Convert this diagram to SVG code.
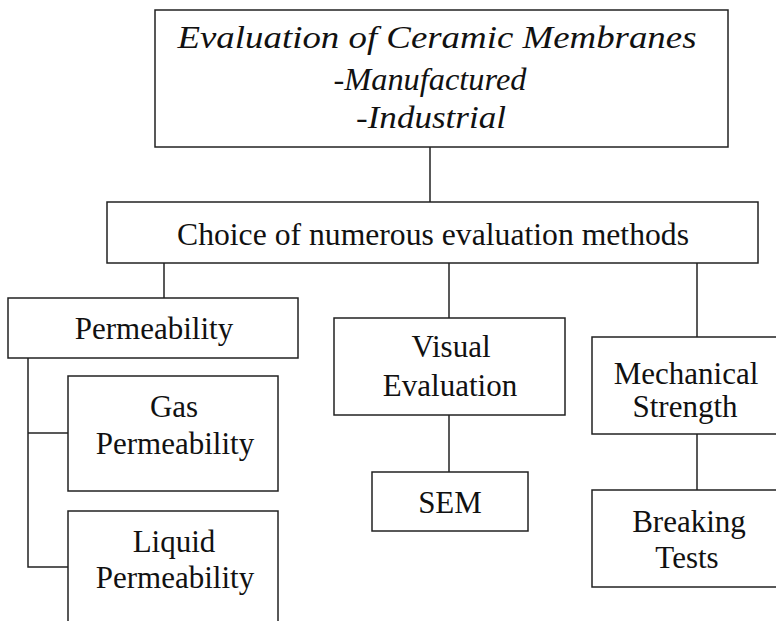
<svg xmlns="http://www.w3.org/2000/svg" width="776" height="621" viewBox="0 0 776 621">
<style>
.box{fill:#fff;stroke:#222;stroke-width:1.5}
.ln{fill:none;stroke:#222;stroke-width:1.5}
.t{font-family:"Liberation Serif","Times New Roman",serif;font-size:31px;fill:#111;text-anchor:middle}
.ti{font-family:"Liberation Serif","Times New Roman",serif;font-style:italic;font-size:31px;fill:#111;text-anchor:middle}
</style>
<rect width="776" height="621" fill="#fff"/>
<g id="connectors">
<path class="ln" d="M430 147V202"/>
<path class="ln" d="M164 263V298"/>
<path class="ln" d="M449 263V318"/>
<path class="ln" d="M697 263V337"/>
<path class="ln" d="M28 358V567H68"/>
<path class="ln" d="M28 433H68"/>
<path class="ln" d="M449 415V472"/>
<path class="ln" d="M697 434V490"/>
</g>
<g id="top">
<rect class="box" x="155" y="10" width="573" height="137"/>
<text class="ti" x="437" y="48" textLength="519" lengthAdjust="spacingAndGlyphs">Evaluation of Ceramic Membranes</text>
<text class="ti" x="430" y="90" textLength="193" lengthAdjust="spacingAndGlyphs">-Manufactured</text>
<text class="ti" x="431" y="128" textLength="150" lengthAdjust="spacingAndGlyphs">-Industrial</text>
</g>
<g id="choice">
<rect class="box" x="107" y="202" width="651" height="61"/>
<text class="t" x="433" y="245" textLength="512" lengthAdjust="spacingAndGlyphs">Choice of numerous evaluation methods</text>
</g>
<g id="permeability">
<rect class="box" x="8" y="298" width="290" height="60"/>
<text class="t" x="154" y="339">Permeability</text>
</g>
<g id="gas">
<rect class="box" x="68" y="376" width="210" height="115"/>
<text class="t" x="174" y="417">Gas</text>
<text class="t" x="175" y="454">Permeability</text>
</g>
<g id="liquid">
<rect class="box" x="68" y="511" width="210" height="115"/>
<text class="t" x="174" y="552">Liquid</text>
<text class="t" x="175" y="588">Permeability</text>
</g>
<g id="visual">
<rect class="box" x="334" y="318" width="231" height="97"/>
<text class="t" x="451" y="357">Visual</text>
<text class="t" x="450" y="396">Evaluation</text>
</g>
<g id="sem">
<rect class="box" x="372" y="472" width="156" height="59"/>
<text class="t" x="450" y="513">SEM</text>
</g>
<g id="mechanical">
<rect class="box" x="592" y="337" width="190" height="97"/>
<text class="t" x="686" y="384">Mechanical</text>
<text class="t" x="685" y="417">Strength</text>
</g>
<g id="breaking">
<rect class="box" x="592" y="490" width="190" height="97"/>
<text class="t" x="689" y="532">Breaking</text>
<text class="t" x="687" y="568">Tests</text>
</g>
</svg>
